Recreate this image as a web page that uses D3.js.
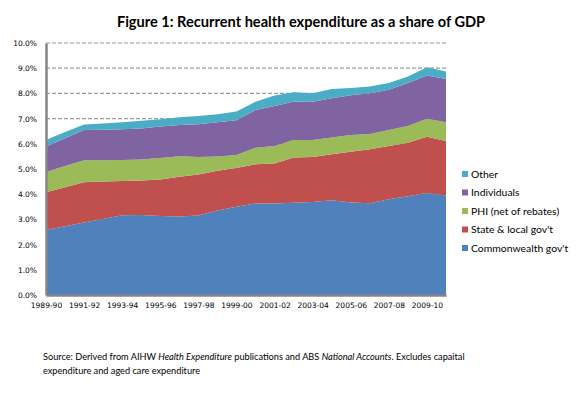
<!DOCTYPE html>
<html>
<head>
<meta charset="utf-8">
<script src="https://cdn.jsdelivr.net/npm/d3@7"></script>
<style>
  body { margin: 0; background: #fff; }
  svg { display: block; }
</style>
</head>
<body>
<div id="chart"></div>
<script>
var svgWidth = 576;
var svgHeight = 393;

// years on the category axis
var years = ["1989-90", "1990-91", "1991-92", "1992-93", "1993-94", "1994-95", "1995-96",
  "1996-97", "1997-98", "1998-99", "1999-00", "2000-01", "2001-02", "2002-03", "2003-04",
  "2004-05", "2005-06", "2006-07", "2007-08", "2008-09", "2009-10", "2010-11"];

// share of GDP (%) by funder
var commonwealth = [2.58, 2.73, 2.88, 3.02, 3.16, 3.17, 3.13, 3.12, 3.15, 3.35, 3.50,
  3.63, 3.63, 3.66, 3.69, 3.76, 3.67, 3.64, 3.80, 3.92, 4.05, 3.95];
var stateLocal = [1.50, 1.55, 1.59, 1.48, 1.36, 1.37, 1.45, 1.57, 1.63, 1.58, 1.54,
  1.56, 1.59, 1.80, 1.79, 1.83, 2.01, 2.14, 2.11, 2.12, 2.23, 2.16];
var phi = [0.80, 0.84, 0.88, 0.85, 0.84, 0.84, 0.86, 0.82, 0.70, 0.57, 0.52,
  0.65, 0.69, 0.69, 0.67, 0.66, 0.67, 0.61, 0.64, 0.67, 0.71, 0.75];
var individuals = [1.01, 1.10, 1.20, 1.21, 1.22, 1.23, 1.25, 1.24, 1.30, 1.36, 1.37,
  1.50, 1.59, 1.53, 1.52, 1.56, 1.58, 1.62, 1.59, 1.70, 1.72, 1.71];
var other = [0.26, 0.25, 0.22, 0.25, 0.28, 0.30, 0.28, 0.30, 0.32, 0.31, 0.35,
  0.33, 0.42, 0.37, 0.34, 0.36, 0.28, 0.26, 0.27, 0.26, 0.33, 0.30];

var seriesNames = ["Commonwealth gov't", "State & local gov't", "PHI (net of rebates)", "Individuals", "Other"];
var seriesColors = ["#4f81bd", "#c0504d", "#9bbb59", "#8064a2", "#4bacc6"];
var yTicks = [0, 1, 2, 3, 4, 5, 6, 7, 8, 9, 10];

var margin = { top: 43, right: 130, bottom: 98, left: 46 };
var width = svgWidth - margin.left - margin.right;
var height = svgHeight - margin.top - margin.bottom;

var svg = d3.select("#chart").append("svg")
  .attr("width", svgWidth)
  .attr("height", svgHeight);

svg.append("text")
  .attr("x", 301)
  .attr("y", 27)
  .attr("text-anchor", "middle")
  .style("font-family", "Lato, 'Open Sans', sans-serif")
  .style("font-weight", "bold")
  .style("font-size", "14.6px")
  .text("Figure 1: Recurrent health expenditure as a share of GDP");

var chartGroup = svg.append("g")
  .attr("transform", `translate(${margin.left}, ${margin.top})`);

// build table for the stack
var table = years.map(function(y, i) {
  return {
    year: y,
    c: commonwealth[i],
    s: stateLocal[i],
    p: phi[i],
    ind: individuals[i],
    o: other[i]
  };
});
var keys = ["c", "s", "p", "ind", "o"];
var stacked = d3.stack().keys(keys)(table);

var xScale = d3.scalePoint()
  .domain(years)
  .range([0, width]);

var yScale = d3.scaleLinear()
  .domain([0, 10])
  .range([height, 0]);

// dashed gridlines
chartGroup.append("g")
  .selectAll("line")
  .data(yTicks.slice(1))
  .enter()
  .append("line")
  .attr("x1", 0)
  .attr("x2", width + 1)
  .attr("y1", d => yScale(d))
  .attr("y2", d => yScale(d))
  .attr("stroke", "#9a9a9a")
  .attr("stroke-width", 1.2)
  .attr("stroke-dasharray", "4,2");

var area = d3.area()
  .x((d, i) => xScale(years[i]))
  .y0(d => yScale(d[0]))
  .y1(d => yScale(d[1]));

chartGroup.selectAll(".layer")
  .data(stacked)
  .enter()
  .append("path")
  .attr("class", "layer")
  .attr("d", area)
  .attr("fill", (d, i) => seriesColors[i]);

// axes
var leftAxis = d3.axisLeft(yScale)
  .tickValues(yTicks)
  .tickSize(0)
  .tickPadding(9)
  .tickFormat(d => d.toFixed(1) + "%");

var bottomAxis = d3.axisBottom(xScale)
  .tickValues(years.filter((d, i) => i % 2 === 0))
  .tickSize(0)
  .tickPadding(8);

var yAxisG = chartGroup.append("g").call(leftAxis);
var xAxisG = chartGroup.append("g")
  .attr("transform", `translate(0, ${height})`)
  .call(bottomAxis);

[yAxisG, xAxisG].forEach(function(g) {
  g.select(".domain").attr("stroke", "#868686").attr("stroke-width", 2.5);
  g.selectAll("text")
    .style("font-family", "'DejaVu Sans', Verdana, sans-serif")
    .style("font-size", "7.5px")
    .attr("fill", "#000");
});

// legend, drawn top to bottom in reverse order
var legend = svg.append("g")
  .attr("transform", "translate(462, 174)");

var legendItems = legend.selectAll("g")
  .data(seriesNames.slice().reverse())
  .enter()
  .append("g")
  .attr("transform", (d, i) => `translate(0, ${i * 18.5})`);

legendItems.append("rect")
  .attr("x", 0)
  .attr("y", -3)
  .attr("width", 6)
  .attr("height", 6)
  .attr("fill", (d, i) => seriesColors[seriesColors.length - 1 - i]);

legendItems.append("text")
  .attr("x", 9)
  .attr("y", 3.5)
  .style("font-family", "Lato, 'Open Sans', sans-serif")
  .style("font-size", "10.4px")
  .text(d => d);

// source note
var note = svg.append("g")
  .style("font-family", "Lato, 'Open Sans', sans-serif")
  .style("font-size", "9.2px");

var line1 = note.append("text")
  .attr("x", 43)
  .attr("y", 360);
line1.append("tspan").text("Source:  Derived from AIHW ");
line1.append("tspan").style("font-style", "italic").text("Health Expenditure");
line1.append("tspan").text(" publications and ABS ");
line1.append("tspan").style("font-style", "italic").text("National Accounts");
line1.append("tspan").text(". Excludes capaital");

note.append("text")
  .attr("x", 43)
  .attr("y", 374)
  .text("expenditure and aged care expenditure");
</script>
</body>
</html>
